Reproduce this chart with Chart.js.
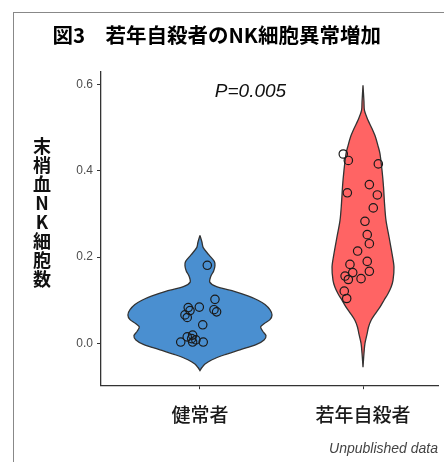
<!DOCTYPE html>
<html>
<head>
<meta charset="utf-8">
<script src="https://cdn.jsdelivr.net/npm/chart.js@4"></script>
<style>
  html, body { margin: 0; padding: 0; background: #fff; }
  #wrap { position: relative; width: 444px; height: 462px; overflow: hidden; }
  #frame { position: absolute; left: 13px; top: 12px; right: -4px; bottom: -4px;
           border-left: 1px solid #888; border-top: 1px solid #888; }
  #ytitle { position: absolute; left: 33px; top: 137px; font-family: "Noto Sans CJK JP";
            font-size: 18px; line-height: 18px; writing-mode: vertical-rl;
            text-orientation: upright; letter-spacing: 1px; color: #111; font-weight: bold; }
  canvas { position: absolute; left: 0; top: 0; }
</style>
</head>
<body>
<div id="wrap">
  <div id="frame"></div>
  <canvas id="violin" width="444" height="462"></canvas>
  <div id="ytitle">末梢血NK細胞数</div>
</div>
<script>
// カテゴリ
const groups = ['健常者', '若年自殺者'];
const groupPos = [1, 2];
const yTicks = [0, 0.2, 0.4, 0.6];

// バイオリン形状 (値, 半幅 x軸単位)
const healthyLevels = [0.250, 0.235, 0.222, 0.205, 0.190, 0.180, 0.168, 0.155, 0.142, 0.132, 0.120, 0.110, 0.100, 0.090, 0.078, 0.066, 0.055, 0.046, 0.038, 0.028, 0.018, 0.008, -0.003, -0.015, -0.027, -0.038, -0.048, -0.056, -0.063];
const healthyWidth  = [0.000, 0.012, 0.020, 0.055, 0.088, 0.092, 0.084, 0.066, 0.060, 0.098, 0.215, 0.294, 0.356, 0.399, 0.429, 0.442, 0.429, 0.395, 0.372, 0.385, 0.405, 0.393, 0.344, 0.245, 0.147, 0.074, 0.031, 0.012, 0.000];

const suicideLevels = [0.598, 0.560, 0.540, 0.517, 0.498, 0.478, 0.458, 0.440, 0.400, 0.362, 0.324, 0.285, 0.246, 0.208, 0.177, 0.146, 0.130, 0.115, 0.100, 0.084, 0.068, 0.053, 0.038, 0.022, 0.000, -0.023, -0.055];
const suicideWidth  = [0.000, 0.006, 0.009, 0.031, 0.055, 0.077, 0.092, 0.104, 0.117, 0.126, 0.132, 0.141, 0.160, 0.178, 0.190, 0.184, 0.172, 0.153, 0.129, 0.104, 0.074, 0.049, 0.034, 0.025, 0.012, 0.006, 0.000];

// 個別データ点
const healthyValues = [0.181, 0.102, 0.078, 0.073, 0.084, 0.083, 0.076, 0.066, 0.060, 0.043, 0.015, 0.019, 0.011, 0.003, 0.003, 0.003, 0.008];
const healthyJitter = [0.045, 0.092, 0.086, 0.102, -0.004, -0.072, -0.061, -0.092, -0.078, 0.017, -0.078, -0.045, -0.051, -0.118, -0.045, 0.020, -0.025];

const suicideValues = [0.439, 0.424, 0.416, 0.368, 0.349, 0.344, 0.314, 0.283, 0.252, 0.231, 0.214, 0.190, 0.183, 0.167, 0.164, 0.156, 0.148, 0.150, 0.121, 0.104];
const suicideJitter = [-0.121, -0.090, 0.094, 0.039, -0.096, 0.088, 0.063, 0.012, 0.026, 0.039, -0.033, 0.026, -0.080, 0.039, -0.063, -0.110, -0.090, -0.012, -0.115, -0.100];

const pLabel = 'P=0.005';
const pAt = { x: 1.31, y: 0.584 };

function outline(center, levels, widths) {
    const right = levels.map((v, i) => ({ x: center + widths[i], y: v }));
    const left = levels.map((v, i) => ({ x: center - widths[i], y: v })).reverse();
    return right.concat(left);
}

function points(center, values, jitter) {
    return values.map((v, i) => ({ x: center + jitter[i], y: v }));
}

const pText = {
    id: 'pText',
    afterDatasetsDraw(chart) {
        const { ctx, scales } = chart;
        ctx.save();
        ctx.font = 'italic 19px "Liberation Sans"';
        ctx.fillStyle = '#111';
        ctx.textAlign = 'center';
        ctx.textBaseline = 'middle';
        ctx.fillText(pLabel, scales.x.getPixelForValue(pAt.x), scales.y.getPixelForValue(pAt.y));
        ctx.restore();
    }
};

const violinStyle = { showLine: true, fill: 'shape', borderColor: '#333', borderWidth: 1.3,
                      pointRadius: 0, tension: 0.3, order: 2 };
const dotStyle = { showLine: false, pointRadius: 4.2, pointBorderWidth: 1.2,
                   pointBorderColor: '#1a1a1a', pointBackgroundColor: 'rgba(0,0,0,0)', order: 1 };

new Chart(document.getElementById('violin'), {
    type: 'scatter',
    data: {
        datasets: [
            { ...violinStyle, data: outline(groupPos[0], healthyLevels, healthyWidth), backgroundColor: '#4A8FD0' },
            { ...violinStyle, data: outline(groupPos[1], suicideLevels, suicideWidth), backgroundColor: '#FF6464' },
            { ...dotStyle, data: points(groupPos[0], healthyValues, healthyJitter) },
            { ...dotStyle, data: points(groupPos[1], suicideValues, suicideJitter) }
        ]
    },
    options: {
        responsive: false,
        animation: false,
        layout: { padding: { left: 0, right: 6, top: 0, bottom: 0 } },
        plugins: {
            legend: { display: false },
            tooltip: { enabled: false },
            title: {
                display: true,
                text: '図3　若年自殺者のNK細胞異常増加 ',
                color: '#000',
                font: { family: '"Noto Sans CJK JP"', size: 20.5, weight: 'bold' },
                padding: { top: 23, bottom: 24 }
            },
            subtitle: {
                display: true,
                position: 'bottom',
                align: 'end',
                text: 'Unpublished data',
                color: '#444',
                font: { family: '"Liberation Sans"', size: 14, style: 'italic' },
                padding: { top: 0, bottom: 4 }
            }
        },
        scales: {
            x: {
                type: 'linear',
                min: 0.393,
                max: 2.46,
                afterBuildTicks: axis => { axis.ticks = groupPos.map(v => ({ value: v })); },
                afterFit: axis => { axis.height = 56; },
                ticks: {
                    callback: v => groups[groupPos.indexOf(v)],
                    color: '#1a1a1a',
                    padding: 14,
                    font: { family: '"Noto Sans CJK JP"', size: 19, weight: '500' }
                },
                grid: { drawOnChartArea: false, tickLength: 4, color: '#333' },
                border: { display: true, color: '#333', width: 1.3 }
            },
            y: {
                min: -0.097,
                max: 0.63,
                afterBuildTicks: axis => { axis.ticks = yTicks.map(v => ({ value: v })); },
                afterFit: axis => { axis.width = 101; },
                ticks: {
                    callback: v => v.toFixed(1),
                    color: '#4d4d4d',
                    padding: 4,
                    font: { family: '"Liberation Sans"', size: 12 }
                },
                grid: { drawOnChartArea: false, tickLength: 4, color: '#333' },
                border: { display: true, color: '#333', width: 1.3 }
            }
        }
    },
    plugins: [pText]
});
</script>
</body>
</html>
